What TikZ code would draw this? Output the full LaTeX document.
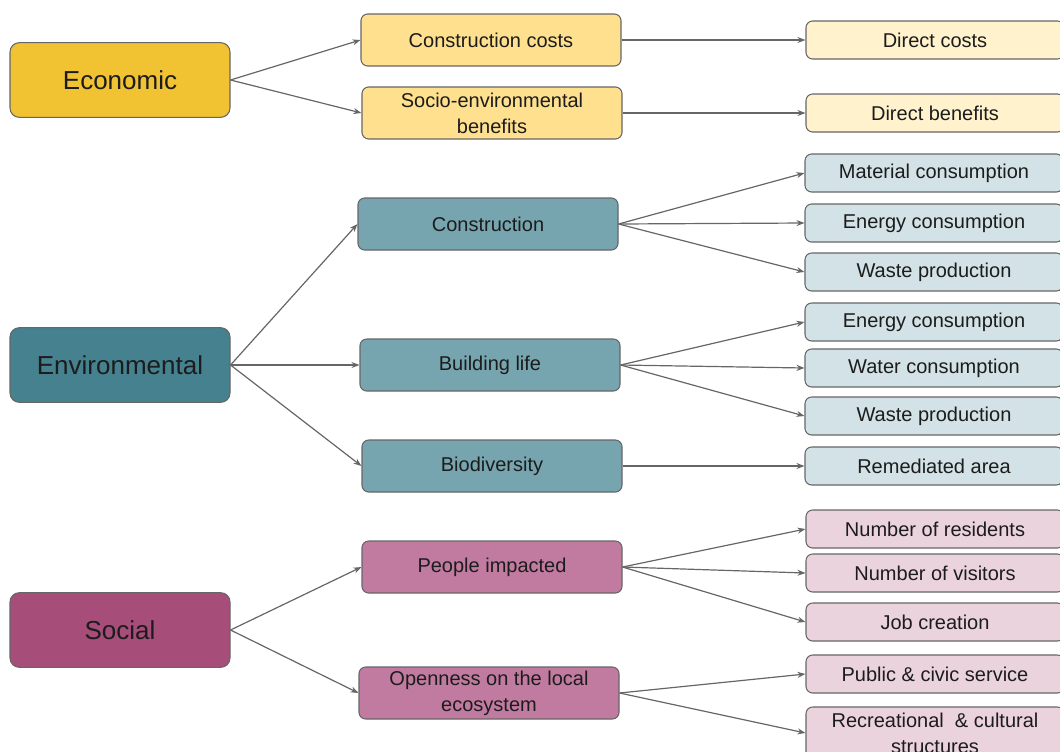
\documentclass[tikz,border=0pt]{standalone}
\usepackage{fontspec}
\setmainfont{Liberation Sans}
\usetikzlibrary{arrows.meta}
\definecolor{ylA}{HTML}{F1C232}
\definecolor{ylB}{HTML}{FFE08F}
\definecolor{ylC}{HTML}{FFF2CC}
\definecolor{cyA}{HTML}{45818E}
\definecolor{cyB}{HTML}{76A5AF}
\definecolor{cyC}{HTML}{D3E2E6}
\definecolor{mgA}{HTML}{A64D79}
\definecolor{mgB}{HTML}{C27BA0}
\definecolor{mgC}{HTML}{EBD3DE}
\definecolor{bord}{HTML}{666666}
\definecolor{arr}{HTML}{666666}
\definecolor{txt}{HTML}{1C1C1C}
\tikzset{
  box/.style={draw=bord, line width=0.8pt, text=txt, align=center, inner sep=2pt},
  rootbox/.style={box, rounded corners=7pt, minimum width=165pt, minimum height=56pt, font=\fontsize{19.5}{23}\selectfont},
  midbox/.style={box, rounded corners=5pt, minimum width=195pt, minimum height=39pt, font=\fontsize{15}{19.5}\selectfont},
  leafbox/.style={box, rounded corners=5pt, minimum width=193.5pt, minimum height=28.5pt, font=\fontsize{15}{19.5}\selectfont},
  link/.style={draw=arr, line width=0.9pt, -{Stealth[length=6pt,width=4.5pt]}}
}
\begin{document}
\begin{tikzpicture}[x=0.75pt,y=-0.75pt]
\useasboundingbox (0,0) rectangle (1060,751);
% roots
\node[rootbox, fill=ylA] (eco) at (120,80) {Economic};
\node[rootbox, fill=cyA] (env) at (120,365) {Environmental};
\node[rootbox, fill=mgA] (soc) at (120,630) {Social};
% middle
\node[midbox, fill=ylB] (cc) at (491,40) {Construction costs};
\node[midbox, fill=ylB] (seb) at (492,113) {Socio-environmental\\benefits};
\node[midbox, fill=cyB] (con) at (488,224) {Construction};
\node[midbox, fill=cyB] (bl) at (490,365) {Building life};
\node[midbox, fill=cyB] (bio) at (492,466) {Biodiversity};
\node[midbox, fill=mgB] (pi) at (492,567) {People impacted};
\node[midbox, fill=mgB] (op) at (489,693) {Openness on the local\\ecosystem};
% leaves
\node[leafbox, fill=ylC] (dc) at (935,40) {Direct costs};
\node[leafbox, fill=ylC] (db) at (935,113) {Direct benefits};
\node[leafbox, fill=cyC] (mc) at (934,173) {Material consumption};
\node[leafbox, fill=cyC] (ec1) at (934,223) {Energy consumption};
\node[leafbox, fill=cyC] (wp1) at (934,272) {Waste production};
\node[leafbox, fill=cyC] (ec2) at (934,322) {Energy consumption};
\node[leafbox, fill=cyC] (wc) at (934,368) {Water consumption};
\node[leafbox, fill=cyC] (wp2) at (934,416) {Waste production};
\node[leafbox, fill=cyC] (ra) at (934,466) {Remediated area};
\node[leafbox, fill=mgC] (nr) at (935,529) {Number of residents};
\node[leafbox, fill=mgC] (nv) at (935,573) {Number of visitors};
\node[leafbox, fill=mgC] (jc) at (935,622) {Job creation};
\node[leafbox, fill=mgC] (pc) at (935,674) {Public \& civic service};
\node[leafbox, fill=mgC, minimum height=39pt] (rc) at (935,733) {Recreational\ \ \& cultural\\structures};
% links root -> middle
\draw[link] (eco.east) -- (cc.west);
\draw[link] (eco.east) -- (seb.west);
\draw[link] (env.east) -- (con.west);
\draw[link] (env.east) -- (bl.west);
\draw[link] (env.east) -- (bio.west);
\draw[link] (soc.east) -- (pi.west);
\draw[link] (soc.east) -- (op.west);
% links middle -> leaves
\draw[link] (cc.east) -- (dc.west);
\draw[link] (seb.east) -- (db.west);
\draw[link] (con.east) -- (mc.west);
\draw[link] (con.east) -- (ec1.west);
\draw[link] (con.east) -- (wp1.west);
\draw[link] (bl.east) -- (ec2.west);
\draw[link] (bl.east) -- (wc.west);
\draw[link] (bl.east) -- (wp2.west);
\draw[link] (bio.east) -- (ra.west);
\draw[link] (pi.east) -- (nr.west);
\draw[link] (pi.east) -- (nv.west);
\draw[link] (pi.east) -- (jc.west);
\draw[link] (op.east) -- (pc.west);
\draw[link] (op.east) -- (rc.west);
\end{tikzpicture}
\end{document}
